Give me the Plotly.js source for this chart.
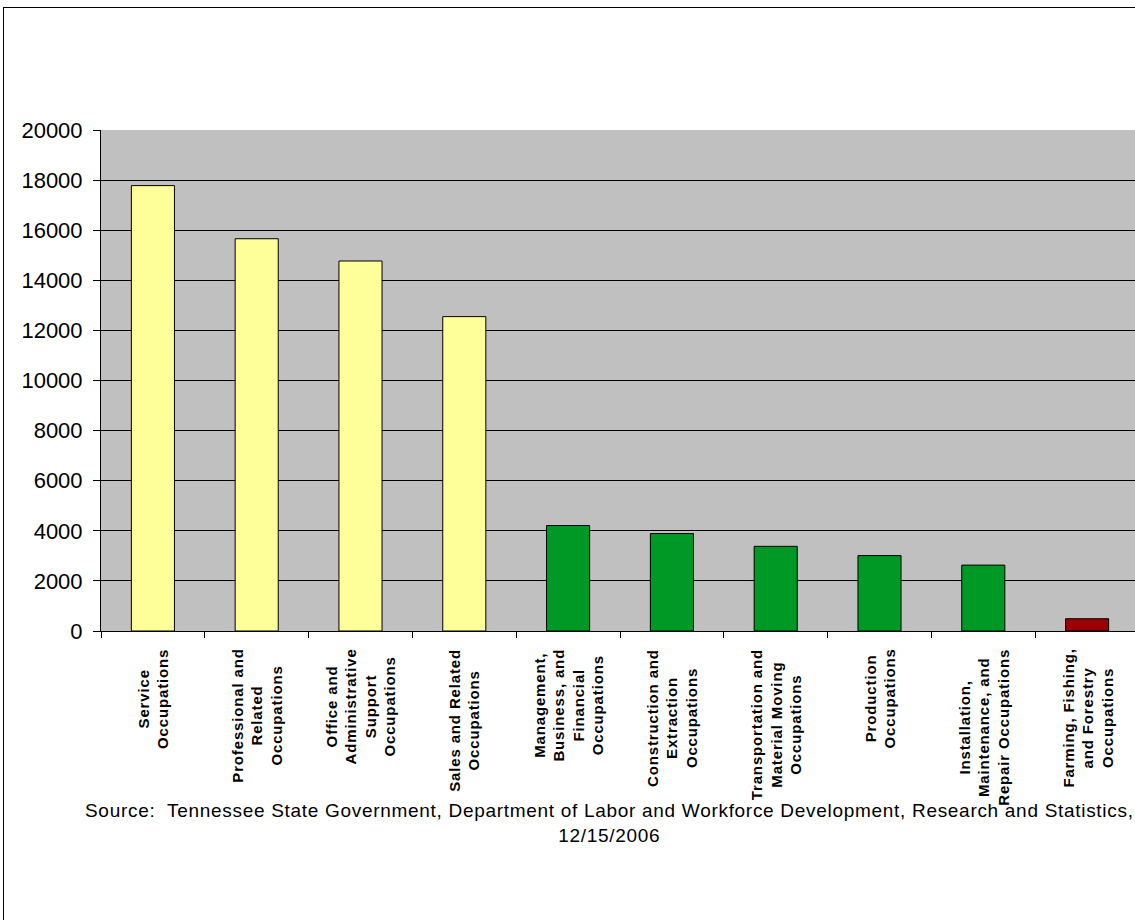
<!DOCTYPE html>
<html>
<head>
<meta charset="utf-8">
<script src="https://cdn.plot.ly/plotly-3.0.1.min.js"></script>
<style>
  html, body { margin: 0; padding: 0; background: #fff; }
  #wrap { position: relative; width: 1135px; height: 920px; overflow: hidden; }
  #chart { position: absolute; left: 0; top: 0; width: 1140px; height: 920px; }
  #frame { position: absolute; left: 3px; top: 7px; width: 1200px; height: 1000px; border: 1px solid #000; pointer-events: none; }
  text.annotation-text[data-unformatted*="<b>"] { letter-spacing: 0.85px; }
  text.annotation-text[data-unformatted^="Source"] { letter-spacing: 0.7px; }
</style>
</head>
<body>
<div id="wrap">
  <div id="chart"></div>
  <div id="frame"></div>
</div>
<script>
const categories = [
  "Service Occupations",
  "Professional and Related Occupations",
  "Office and Administrative Support Occupations",
  "Sales and Related Occupations",
  "Management, Business, and Financial Occupations",
  "Construction and Extraction Occupations",
  "Transportation and Material Moving Occupations",
  "Production Occupations",
  "Installation, Maintenance, and Repair Occupations",
  "Farming, Fishing, and Forestry Occupations"
];
const tickLabels = [
  "Service<br>Occupations",
  "Professional and<br>Related<br>Occupations",
  "Office and<br>Administrative<br>Support<br>Occupations",
  "Sales and Related<br>Occupations",
  "Management,<br>Business, and<br>Financial<br>Occupations",
  "Construction and<br>Extraction<br>Occupations",
  "Transportation and<br>Material Moving<br>Occupations",
  "Production<br>Occupations",
  "Installation,<br>Maintenance, and<br>Repair Occupations",
  "Farming, Fishing,<br>and Forestry<br>Occupations"
];
const values = [17780, 15660, 14770, 12550, 4210, 3890, 3380, 3010, 2630, 490];
const barColors = ["#FFFF99", "#FFFF99", "#FFFF99", "#FFFF99",
                   "#009925", "#009925", "#009925", "#009925", "#009925", "#990000"];
const sourceText = "Source:  Tennessee State Government, Department of Labor and Workforce Development, Research and Statistics,<br>12/15/2006";

const annotations = categories.map((c, i) => ({
  x: c, xref: "x", y: 0, yref: "paper",
  yanchor: "top", xanchor: "center", yshift: -16,
  text: "<b>" + tickLabels[i] + "</b>",
  textangle: -90, align: "center", showarrow: false,
  font: { family: "Liberation Sans, Arial, sans-serif", size: 15, color: "#000" }
}));
annotations.push({
  x: 0.49, xref: "paper", y: -0.383, yref: "paper",
  xanchor: "center", yanchor: "middle", showarrow: false, align: "center",
  text: sourceText,
  font: { family: "Liberation Sans, Arial, sans-serif", size: 19, color: "#000" }
});

const trace = {
  type: "bar",
  x: categories,
  y: values,
  marker: { color: barColors, line: { color: "#000", width: 1 } },
  hoverinfo: "x+y"
};

const layout = {
  width: 1140, height: 920,
  margin: { l: 101, r: 1, t: 130, b: 289 },
  paper_bgcolor: "rgba(0,0,0,0)",
  plot_bgcolor: "#C0C0C0",
  bargap: 0.585,
  showlegend: false,
  font: { family: "Liberation Sans, Arial, sans-serif", color: "#000" },
  xaxis: {
    type: "category",
    showticklabels: false,
    tickson: "boundaries",
    ticks: "outside", ticklen: 6, tickcolor: "#000", tickwidth: 1,
    showline: true, linecolor: "#000", linewidth: 1,
    showgrid: false, zeroline: false
  },
  yaxis: {
    range: [0, 20000], dtick: 2000, tick0: 0, tickformat: "d",
    ticks: "outside", ticklen: 7, tickcolor: "#000", tickwidth: 1,
    ticklabelstandoff: 6,
    showline: true, linecolor: "#000", linewidth: 1,
    showgrid: true, gridcolor: "#000", gridwidth: 1,
    zeroline: false,
    tickfont: { family: "Liberation Sans, Arial, sans-serif", size: 22, color: "#000" }
  },
  annotations: annotations
};

Plotly.newPlot("chart", [trace], layout, { displayModeBar: false, staticPlot: true });
</script>
</body>
</html>
